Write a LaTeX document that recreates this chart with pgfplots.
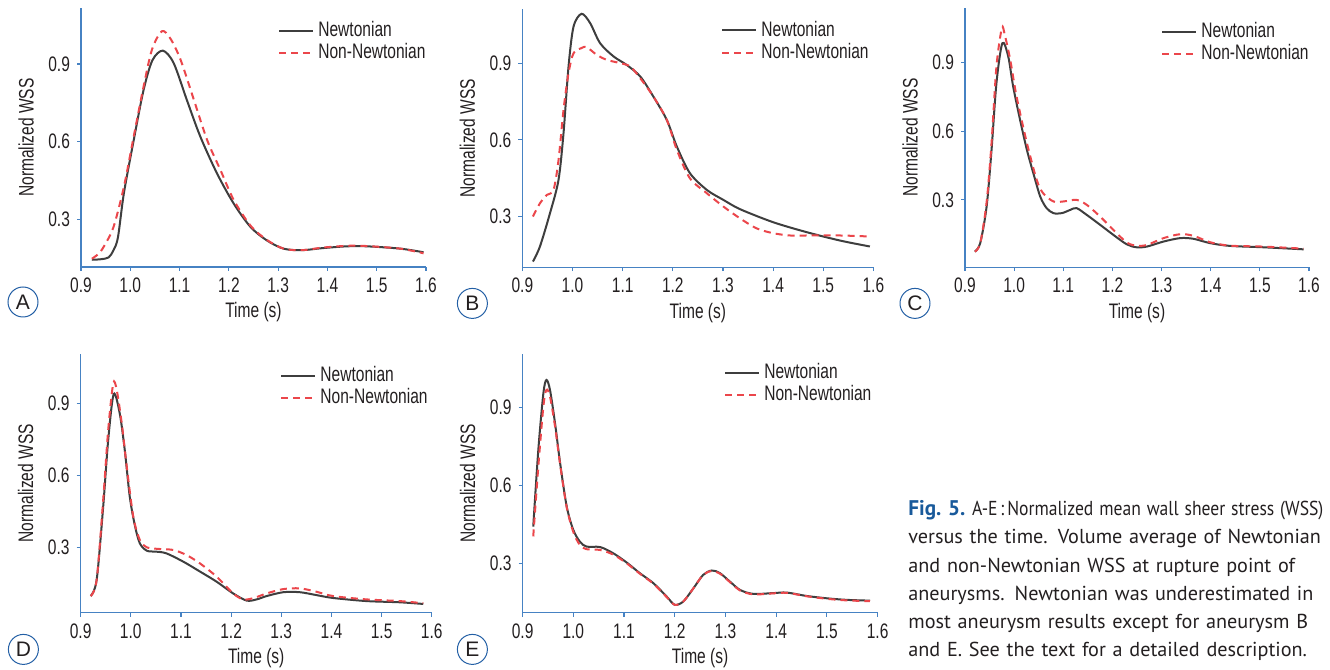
\documentclass[border=0pt]{standalone}
\usepackage{graphicx}
\usepackage{pgfplots}
\pgfplotsset{compat=1.18}
\usepackage{fontspec}
\setmainfont{Liberation Sans}
\newfontfamily\chartfont{Liberation Sans}[FakeStretch=0.74]
\newfontfamily\letterfont{Liberation Sans}
\newfontfamily\capfont{PT Sans}
\newcommand\cf{\chartfont\fontsize{10.5}{11}\selectfont}
\definecolor{axcol}{RGB}{70,130,195}
\definecolor{circcol}{RGB}{35,95,165}
\definecolor{txtcol}{RGB}{35,31,32}
\definecolor{newt}{RGB}{62,62,62}
\definecolor{nonn}{RGB}{235,70,75}
\definecolor{figblue}{RGB}{25,90,155}
\newsavebox\figbox
\pgfplotsset{wss/.style={
  scale only axis, axis lines=left, axis line style={axcol, line width=0.6pt, -},
  anchor=south west,
  xmin=0.9, xmax=1.6,
  xtick={0.9,1.0,1.1,1.2,1.3,1.4,1.5,1.6},
  xticklabels={0.9,1.0,1.1,1.2,1.3,1.4,1.5,1.6},
  ytick={0.3,0.6,0.9}, yticklabels={0.3,0.6,0.9},
  /pgf/number format/assume math mode=true,
  tick align=outside, major tick length=2pt,
  tick style={axcol, line width=0.6pt},
  ticklabel style={font=\cf, text=txtcol},
  xlabel={Time (s)}, ylabel={Normalized WSS},
  label style={font=\cf, text=txtcol},
  xlabel style={at={([yshift=-22.7pt]axis description cs:0.5,0)}, anchor=center},
  ylabel style={at={([xshift=-27.5pt]axis description cs:0,0.5)}, anchor=center},
  legend cell align=left,
  legend style={draw=none, fill=none, font=\cf, text=txtcol, anchor=north west,
    inner sep=0pt, row sep=-2pt},
  legend image code/.code={\draw[##1] (0pt,0pt) -- (17pt,0pt);},
  newtline/.style={newt, line width=1pt, smooth},
  nonline/.style={nonn, line width=1pt, dash pattern=on 3.5pt off 2.5pt, smooth},
}}
\begin{document}
\begin{tikzpicture}
\path[use as bounding box] (0,0) rectangle (665pt,335pt);
% ---------- A ----------
\begin{axis}[wss, at={(40.5pt,201.5pt)}, width=172.5pt, height=129.5pt,
  ymin=0.115, ymax=1.117, legend style={at={(0.571,0.965)}}]
\addplot[newtline] coordinates {(0.922,0.143) (0.940,0.145) (0.956,0.152) (0.966,0.180) (0.975,0.230) (0.987,0.40) (1.007,0.606) (1.027,0.80) (1.045,0.915) (1.066,0.952) (1.088,0.904) (1.115,0.76) (1.142,0.62) (1.176,0.477) (1.21,0.36) (1.244,0.27) (1.277,0.218) (1.311,0.186) (1.348,0.180) (1.39,0.188) (1.44,0.195) (1.48,0.195) (1.548,0.186) (1.595,0.172)};
\addlegendentry{Newtonian}
\addplot[nonline] coordinates {(0.922,0.147) (0.935,0.165) (0.946,0.193) (0.966,0.27) (0.987,0.425) (1.007,0.62) (1.027,0.813) (1.044,0.956) (1.064,1.027) (1.081,1.0) (1.102,0.917) (1.129,0.762) (1.156,0.606) (1.183,0.49) (1.21,0.374) (1.244,0.275) (1.277,0.22) (1.311,0.186) (1.348,0.180) (1.39,0.19) (1.44,0.197) (1.48,0.196) (1.548,0.186) (1.595,0.168)};
\addlegendentry{Non-Newtonian}
\end{axis}
% ---------- B ----------
\begin{axis}[wss, at={(261.2pt,201.4pt)}, width=175.5pt, height=129pt,
  ymin=0.102, ymax=1.111, legend style={at={(0.566,0.97)}}]
\addplot[newtline] coordinates {(0.921,0.124) (0.935,0.183) (0.955,0.313) (0.972,0.443) (0.982,0.626) (0.992,0.887) (1.002,1.043) (1.018,1.093) (1.035,1.057) (1.055,0.978) (1.082,0.926) (1.108,0.893) (1.135,0.848) (1.161,0.77) (1.188,0.678) (1.208,0.574) (1.234,0.47) (1.268,0.404) (1.301,0.365) (1.334,0.329) (1.40,0.278) (1.467,0.239) (1.534,0.206) (1.593,0.183)};
\addlegendentry{Newtonian}
\addplot[nonline] coordinates {(0.921,0.30) (0.935,0.352) (0.949,0.385) (0.962,0.404) (0.972,0.52) (0.982,0.717) (0.992,0.861) (1.002,0.939) (1.018,0.959) (1.028,0.963) (1.048,0.933) (1.068,0.913) (1.095,0.9) (1.115,0.887) (1.135,0.841) (1.161,0.77) (1.188,0.678) (1.208,0.561) (1.234,0.45) (1.268,0.391) (1.301,0.339) (1.334,0.293) (1.367,0.254) (1.40,0.235) (1.434,0.226) (1.467,0.226) (1.534,0.226) (1.593,0.222)};
\addlegendentry{Non-Newtonian}
\end{axis}
% ---------- C ----------
\begin{axis}[wss, at={(482.5pt,201.4pt)}, width=172pt, height=129.5pt,
  ymin=0.006, ymax=1.137, legend style={at={(0.57,0.962)}}]
\addplot[newtline] coordinates {(0.92,0.074) (0.931,0.111) (0.944,0.271) (0.954,0.518) (0.964,0.81) (0.976,0.984) (0.988,0.926) (0.998,0.795) (1.012,0.65) (1.026,0.518) (1.039,0.417) (1.053,0.315) (1.066,0.264) (1.08,0.242) (1.097,0.242) (1.114,0.256) (1.127,0.264) (1.148,0.234) (1.175,0.191) (1.202,0.147) (1.229,0.106) (1.249,0.093) (1.27,0.096) (1.304,0.118) (1.338,0.133) (1.365,0.13) (1.399,0.111) (1.439,0.099) (1.507,0.093) (1.589,0.084)};
\addlegendentry{Newtonian}
\addplot[nonline] coordinates {(0.92,0.074) (0.931,0.111) (0.944,0.29) (0.954,0.548) (0.964,0.882) (0.975,1.05) (0.981,1.02) (0.992,0.912) (1.005,0.751) (1.026,0.548) (1.046,0.387) (1.059,0.329) (1.08,0.293) (1.1,0.293) (1.127,0.3) (1.148,0.278) (1.175,0.227) (1.202,0.169) (1.229,0.114) (1.249,0.1) (1.27,0.103) (1.304,0.133) (1.338,0.15) (1.365,0.143) (1.399,0.115) (1.439,0.1) (1.507,0.096) (1.589,0.087)};
\addlegendentry{Non-Newtonian}
\end{axis}
% ---------- D ----------
\begin{axis}[wss, at={(40.3pt,28.7pt)}, width=175.6pt, height=129.3pt,
  ymin=0.028, ymax=1.106, legend style={at={(0.568,0.969)}}]
\addplot[newtline] coordinates {(0.92,0.097) (0.932,0.164) (0.945,0.469) (0.955,0.747) (0.966,0.939) (0.978,0.858) (0.988,0.706) (0.998,0.511) (1.008,0.393) (1.018,0.317) (1.032,0.286) (1.051,0.282) (1.071,0.275) (1.105,0.24) (1.138,0.199) (1.171,0.157) (1.204,0.108) (1.231,0.078) (1.251,0.083) (1.271,0.097) (1.304,0.113) (1.337,0.113) (1.37,0.101) (1.403,0.089) (1.47,0.076) (1.536,0.071) (1.583,0.064)};
\addlegendentry{Newtonian}
\addplot[nonline] coordinates {(0.92,0.097) (0.932,0.164) (0.945,0.497) (0.955,0.789) (0.965,0.983) (0.972,0.956) (0.982,0.817) (0.992,0.636) (1.005,0.428) (1.018,0.331) (1.032,0.3) (1.058,0.293) (1.085,0.289) (1.111,0.268) (1.138,0.233) (1.171,0.178) (1.204,0.108) (1.224,0.083) (1.244,0.088) (1.271,0.108) (1.304,0.126) (1.337,0.129) (1.37,0.115) (1.403,0.097) (1.47,0.083) (1.536,0.076) (1.583,0.067)};
\addlegendentry{Non-Newtonian}
\end{axis}
% ---------- E ----------
\begin{axis}[wss, at={(261.3pt,28.7pt)}, width=177.5pt, height=129.3pt,
  ymin=0.11, ymax=1.105, legend style={at={(0.567,0.98)}}]
\addplot[newtline] coordinates {(0.921,0.441) (0.931,0.736) (0.941,0.954) (0.947,1.005) (0.954,0.967) (0.964,0.838) (0.974,0.685) (0.987,0.518) (1.0,0.428) (1.013,0.383) (1.026,0.364) (1.053,0.362) (1.079,0.338) (1.105,0.303) (1.131,0.262) (1.158,0.223) (1.184,0.172) (1.2,0.14) (1.217,0.153) (1.237,0.204) (1.256,0.255) (1.273,0.272) (1.289,0.262) (1.309,0.229) (1.329,0.197) (1.355,0.182) (1.394,0.185) (1.421,0.187) (1.46,0.174) (1.5,0.165) (1.539,0.159) (1.585,0.156)};
\addlegendentry{Newtonian}
\addplot[nonline] coordinates {(0.921,0.403) (0.931,0.672) (0.941,0.903) (0.947,0.967) (0.954,0.941) (0.964,0.826) (0.974,0.68) (0.987,0.515) (1.0,0.42) (1.013,0.37) (1.026,0.354) (1.053,0.351) (1.079,0.333) (1.105,0.3) (1.131,0.26) (1.158,0.221) (1.184,0.17) (1.2,0.14) (1.217,0.153) (1.237,0.204) (1.256,0.255) (1.273,0.27) (1.289,0.26) (1.309,0.227) (1.329,0.195) (1.355,0.18) (1.394,0.184) (1.421,0.186) (1.46,0.173) (1.5,0.163) (1.539,0.157) (1.585,0.154)};
\addlegendentry{Non-Newtonian}
\end{axis}
% ---------- panel letters ----------
\foreach \L/\px/\py in {A/11.5/184, B/236.2/183.3, C/457.5/183.3, D/11.7/10.3, E/236.2/10.3}
  \node[circle, draw=circcol, line width=0.5pt, minimum size=15pt, inner sep=0pt,
        font=\letterfont\fontsize{10.5}{11}\selectfont, text=txtcol] at (\px pt,\py pt) {\L};
% ---------- caption ----------
\node[anchor=north west, inner sep=0pt, text width=207.5pt, align=left,
      font=\capfont\fontsize{10.1}{14.15}\selectfont, text=txtcol] at (454pt,85pt)
 {\sbox\figbox{\bfseries\color{figblue}\fontsize{10.6}{14.15}\selectfont Fig.~5.\ }%
  \mbox{\usebox\figbox\resizebox{\dimexpr\linewidth-\wd\figbox\relax}{\height}{A-E\,:\,Normalized mean wall sheer stress (WSS)}}\\
  \makebox[\linewidth][s]{versus the time. Volume average of Newtonian}\\
  \makebox[\linewidth][s]{and non-Newtonian WSS at rupture point of}\\
  \makebox[\linewidth][s]{aneurysms. Newtonian was underestimated in}\\
  \makebox[\linewidth][s]{most aneurysm results except for aneurysm B}\\
  and E. See the text for a detailed description.};
\end{tikzpicture}
\end{document}
